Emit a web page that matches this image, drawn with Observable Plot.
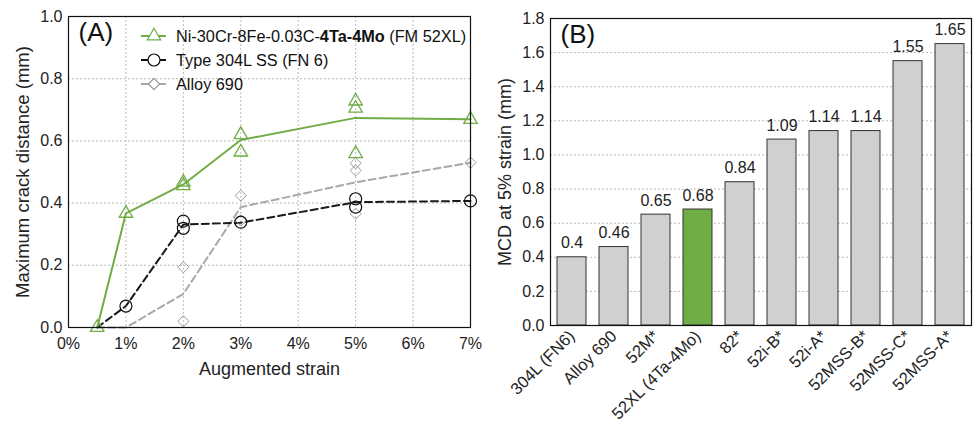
<!DOCTYPE html>
<html>
<head>
<meta charset="utf-8">
<script src="https://cdn.jsdelivr.net/npm/d3@7"></script>
<script src="https://cdn.jsdelivr.net/npm/@observablehq/plot@0.6"></script>
<style>
  html, body { margin: 0; padding: 0; background: #fff; }
  #wrap { position: relative; width: 973px; height: 425px; display: flex; font-family: "Liberation Sans", Arial, sans-serif; }
  #legend { position: absolute; left: 0; top: 0; pointer-events: none; }
</style>
</head>
<body>
<div id="wrap"><div id="panelA"></div><div id="panelB"></div></div>
<script>
// ---------- Panel A data ----------
const strainLine   = [0.5, 1, 2, 3, 5, 7];
const ta4moLine    = [0, 0.367, 0.46, 0.603, 0.674, 0.67];
const ss304Line    = [0, 0.069, 0.331, 0.337, 0.403, 0.407];
const alloy690Line = [0, 0, 0.108, 0.387, 0.467, 0.53];

const ta4moPtsX = [0.5, 1, 2, 2, 3, 3, 5, 5, 5, 7];
const ta4moPtsY = [0, 0.367, 0.467, 0.456, 0.62, 0.564, 0.728, 0.705, 0.559, 0.669];
const ss304PtsX = [1, 2, 2, 3, 5, 5, 7];
const ss304PtsY = [0.069, 0.342, 0.319, 0.339, 0.414, 0.387, 0.407];
const a690PtsX  = [2, 2, 3, 3, 5, 5, 5, 7];
const a690PtsY  = [0.194, 0.02, 0.424, 0.344, 0.528, 0.505, 0.366, 0.53];

const xTicksA = [0, 1, 2, 3, 4, 5, 6, 7];
const yTicksA = [0, 0.2, 0.4, 0.6, 0.8, 1.0];

// ---------- Panel B data ----------
const alloys = ["304L (FN6)", "Alloy 690", "52M*", "52XL (4Ta-4Mo)", "82*", "52i-B*", "52i-A*", "52MSS-B*", "52MSS-C*", "52MSS-A*"];
const mcd    = [0.4, 0.46, 0.65, 0.68, 0.84, 1.09, 1.14, 1.14, 1.55, 1.65];
const yTicksB = [0, 0.2, 0.4, 0.6, 0.8, 1.0, 1.2, 1.4, 1.6, 1.8];

const GREEN = "#70ad47", GRAY_BAR = "#d0d0d0", GRAY_LINE = "#a8a8a8";
const FONT = "'Liberation Sans', Arial, sans-serif";

const zip = (xs, ys) => xs.map((x, i) => ({x, y: ys[i]}));

const plotA = Plot.plot({
  width: 485, height: 425,
  marginLeft: 68, marginRight: 15, marginTop: 16, marginBottom: 98,
  style: {fontFamily: FONT, fontSize: "16px", color: "#222", background: "white"},
  x: {domain: [0, 7]},
  y: {domain: [0, 1]},
  marks: [
    Plot.gridX(xTicksA.slice(1, -1), {stroke: "#bbb", strokeOpacity: 1, strokeDasharray: "2,2"}),
    Plot.gridY(yTicksA.slice(1, -1), {stroke: "#bbb", strokeOpacity: 1, strokeDasharray: "2,2"}),
    Plot.axisX(xTicksA, {tickSize: 0, tickPadding: 10, tickFormat: d => d + "%", label: null, fontSize: 16}),
    Plot.axisY(yTicksA, {tickSize: 0, tickPadding: 6, tickFormat: d3.format(".1f"), label: null, fontSize: 16}),
    Plot.line(zip(strainLine, alloy690Line), {x: "x", y: "y", stroke: GRAY_LINE, strokeWidth: 2, strokeDasharray: "7,4"}),
    Plot.line(zip(strainLine, ss304Line), {x: "x", y: "y", stroke: "#1a1a1a", strokeWidth: 2, strokeDasharray: "7,4"}),
    Plot.line(zip(strainLine, ta4moLine), {x: "x", y: "y", stroke: GREEN, strokeWidth: 2}),
    Plot.dot(zip(a690PtsX, a690PtsY), {x: "x", y: "y", symbol: "diamond2", r: 5, stroke: "#9a9a9a", fill: "none", strokeWidth: 1}),
    Plot.dot(zip(ss304PtsX, ss304PtsY), {x: "x", y: "y", symbol: "circle", r: 6, stroke: "#111", fill: "none", strokeWidth: 1.2}),
    Plot.dot(zip(ta4moPtsX, ta4moPtsY), {x: "x", y: "y", symbol: "triangle", r: 5, stroke: GREEN, fill: "none", strokeWidth: 1.3}),
    Plot.frame({stroke: "#111", strokeWidth: 1.2}),
    Plot.text(["(A)"], {frameAnchor: "top-left", dx: 10, dy: 6, fontSize: 26, textAnchor: "start", lineAnchor: "top", fill: "#111"}),
    Plot.text(["Augmented strain"], {frameAnchor: "bottom", dy: 42, fontSize: 18, lineAnchor: "middle", fill: "#222"}),
    Plot.text(["Maximum crack distance (mm)"], {frameAnchor: "left", dx: -45, rotate: -90, textAnchor: "middle", fontSize: 18.5, fill: "#222"})
  ]
});
document.getElementById("panelA").appendChild(plotA);

const barData = alloys.map((a, i) => ({alloy: a, v: mcd[i]}));
const plotB = Plot.plot({
  width: 488, height: 425,
  marginLeft: 65, marginRight: 2, marginTop: 18, marginBottom: 100,
  style: {fontFamily: FONT, fontSize: "16px", color: "#222", background: "white"},
  x: {domain: alloys, paddingInner: 0.32, paddingOuter: 0.16},
  y: {domain: [0, 1.8]},
  marks: [
    Plot.gridY(yTicksB.slice(1, -1), {stroke: "#bbb", strokeOpacity: 1, strokeDasharray: "2,2"}),
    Plot.barY(barData, {x: "alloy", y: "v", fill: d => d.alloy === "52XL (4Ta-4Mo)" ? GREEN : GRAY_BAR, stroke: "#333", strokeWidth: 1}),
    Plot.text(barData, {x: "alloy", y: "v", text: d => String(d.v), dy: -14, fontSize: 16, fill: "#222"}),
    Plot.axisX({tickSize: 0, tickPadding: 8, tickRotate: -45, label: null, fontSize: 16.5}),
    Plot.axisY(yTicksB, {tickSize: 0, tickPadding: 6, tickFormat: d3.format(".1f"), label: null, fontSize: 16}),
    Plot.frame({stroke: "#111", strokeWidth: 1.2}),
    Plot.text(["(B)"], {frameAnchor: "top-left", dx: 10, dy: 6, fontSize: 26, textAnchor: "start", lineAnchor: "top", fill: "#111"}),
    Plot.text(["MCD at 5% strain (mm)"], {frameAnchor: "left", dx: -45, rotate: -90, textAnchor: "middle", fontSize: 18, fill: "#222"})
  ]
});
document.getElementById("panelB").appendChild(plotB);

// ---------- Legend overlay for panel A ----------
const legendItems = [
  {html: 'Ni-30Cr-8Fe-0.03C-<tspan font-weight="bold">4Ta-4Mo</tspan> (FM 52XL)', color: GREEN, sym: "triangle", r: 5, mstroke: GREEN},
  {html: 'Type 304L SS (FN 6)', color: "#111", sym: "circle", r: 6, mstroke: "#111"},
  {html: 'Alloy 690', color: GRAY_LINE, sym: "diamond2", r: 5, mstroke: "#9a9a9a"}
];
const symMap = {triangle: d3.symbolTriangle, circle: d3.symbolCircle, diamond2: d3.symbolDiamond2};
let leg = `<svg id="legend" width="485" height="110" xmlns="http://www.w3.org/2000/svg" font-family="${FONT}" font-size="16.3">`;
legendItems.forEach((it, i) => {
  const y = 36 + i * 24;
  leg += `<line x1="141" x2="166" y1="${y}" y2="${y}" stroke="${it.color}" stroke-width="2"/>`;
  const path = d3.symbol(symMap[it.sym], Math.PI * it.r * it.r)();
  leg += `<path d="${path}" transform="translate(154,${y})" fill="white" stroke="${it.mstroke}" stroke-width="1.2"/>`;
  leg += `<text x="176" y="${y}" dy="0.35em" fill="#111">${it.html}</text>`;
});
leg += `</svg>`;
document.getElementById("wrap").insertAdjacentHTML("beforeend", leg);
</script>
</body>
</html>
